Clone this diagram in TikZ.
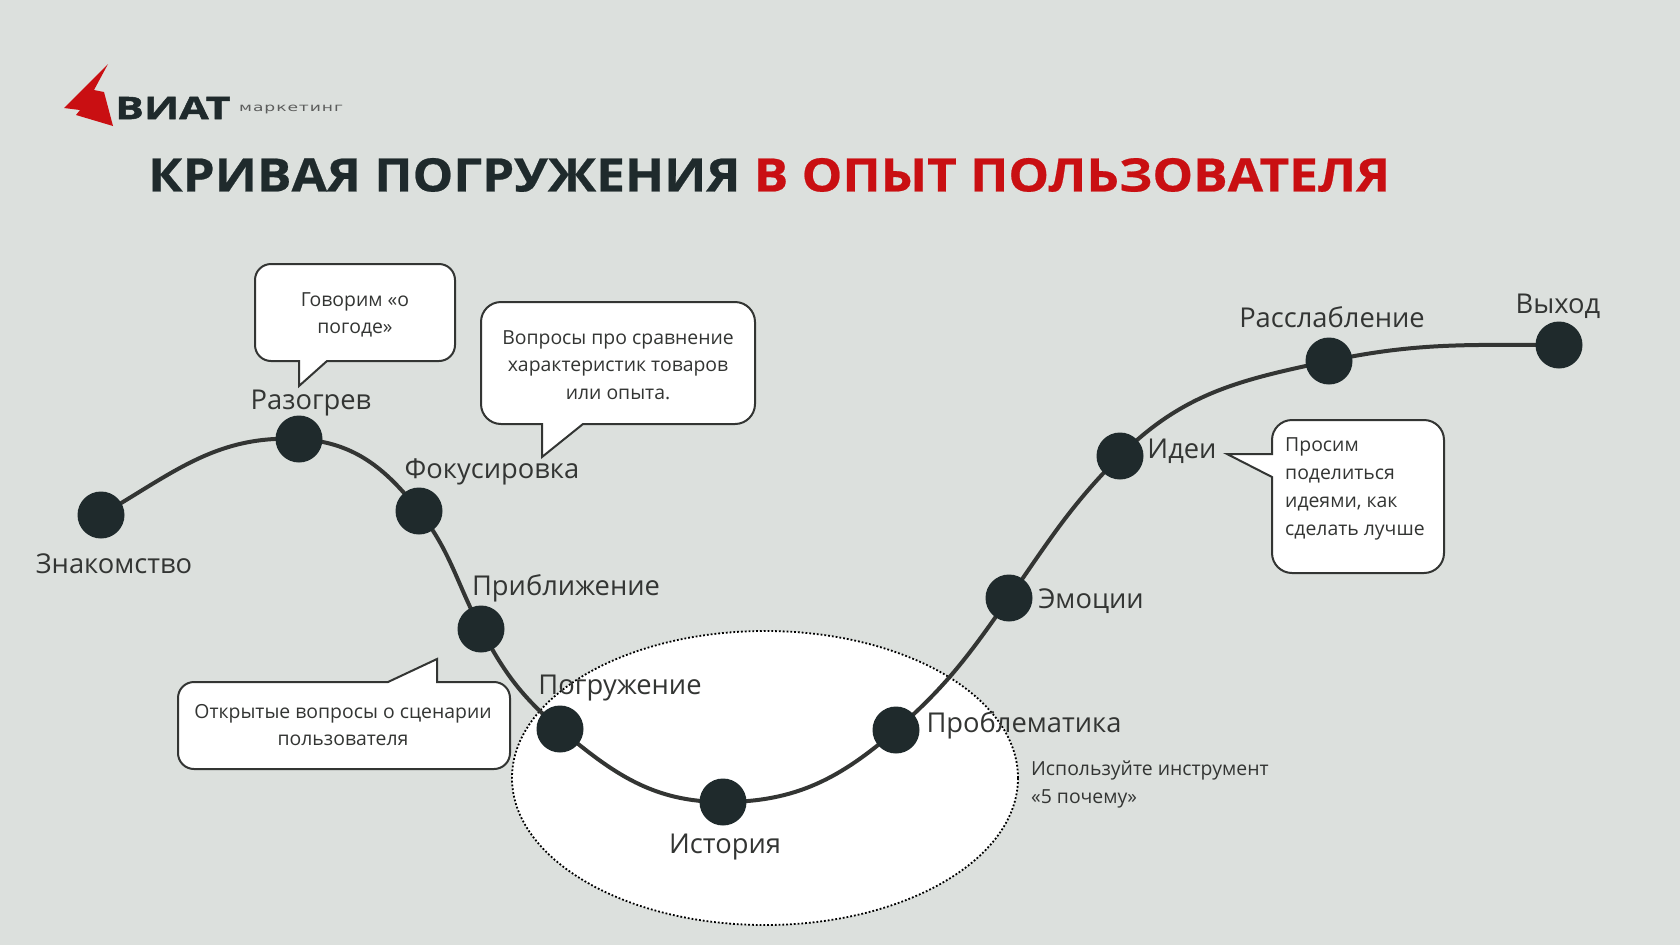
\documentclass[tikz,border=0pt]{standalone}
\usepackage{fontspec}
\usetikzlibrary{shapes.geometric}
\pgfdeclarelayer{dots}
\pgfsetlayers{main,dots}
\setmainfont{Open Sans}
\newfontfamily\titlefont[FakeStretch=1.115,FakeBold=0.5]{Open Sans}
\newfontfamily\logofont[FakeStretch=1.38,FakeBold=1.6]{Open Sans}
\newfontfamily\tagfont[FakeStretch=1.49,LetterSpace=8]{DejaVu Sans}
\definecolor{bgcol}{HTML}{DCE0DD}
\definecolor{inkcol}{HTML}{1F2A2C}
\definecolor{linecol}{HTML}{333533}
\definecolor{redcol}{HTML}{C90F12}
\tikzset{
    dot/.style = {circle, fill=inkcol, minimum size=47pt, inner sep=0pt},
    stage/.style = {text=linecol, inner sep=0pt, font=\fontsize{27.3}{30}\selectfont},
    curve/.style = {draw=linecol, line width=4pt},
    bubble/.style = {draw=linecol, fill=white, line width=2pt, rounded corners=16pt},
    note/.style = {text=linecol, inner sep=0pt, align=center, font=\fontsize{19.4}{27.5}\selectfont},
    sidenote/.style = {note, align=left, font=\fontsize{19.4}{28}\selectfont}
}
\begin{document}
\begin{tikzpicture}[x=1pt,y=-1pt]
    \useasboundingbox[fill=bgcol] (0,0) rectangle (1680,945);
    \fill[redcol] (108,64) -- (64,108) -- (80,110) -- (76,115) -- (113,126) -- (104,92) -- (94,90) -- cycle;
    \node[anchor=west,inner sep=0pt,text=inkcol] (brand) at (115,108) {\logofont\fontsize{31}{31}\selectfont\bfseries ВИАТ};
    \node[anchor=west,inner sep=0pt,text=linecol!80] (tag) at (239,109) {\tagfont\fontsize{11.5}{12}\selectfont маркетинг};
    \node[anchor=west,inner sep=0pt,text=inkcol] (title) at (148,175) {\titlefont\fontsize{46}{50}\selectfont\bfseries КРИВАЯ ПОГРУЖЕНИЯ \textcolor{redcol}{В ОПЫТ ПОЛЬЗОВАТЕЛЯ}};
    \node[draw=black,fill=white,ellipse,dotted,line width=1.8pt,minimum width=506pt,minimum height=294pt,inner sep=0pt] (zone) at (765,778) {};
    \begin{pgfonlayer}{dots}
    \node[dot] (d1) at (101,515) {};
    \node[dot] (d2) at (299,439) {};
    \node[dot] (d3) at (419,511) {};
    \node[dot] (d4) at (481,629) {};
    \node[dot] (d5) at (560,729) {};
    \node[dot] (d6) at (723,802) {};
    \node[dot] (d7) at (896,730) {};
    \node[dot] (d8) at (1009,598) {};
    \node[dot] (d9) at (1120,456) {};
    \node[dot] (d10) at (1329,361) {};
    \node[dot] (d11) at (1559,345) {};
    \end{pgfonlayer}
    \draw[curve] (d1.center) to[out=30,in=177] (d2.center);
    \draw[curve] (d2.center) to[out=-3,in=128] (d3.center);
    \draw[curve] (d3.center) to[out=-52,in=118] (d4.center);
    \draw[curve] (d4.center) to[out=-62,in=140] (d5.center);
    \draw[curve] (d5.center) to[out=-40,in=180] (d6.center);
    \draw[curve] (d6.center) to[out=0,in=221] (d7.center);
    \draw[curve] (d7.center) to[out=41,in=235] (d8.center);
    \draw[curve] (d8.center) to[out=55,in=225] (d9.center);
    \draw[curve] (d9.center) to[out=45,in=192] (d10.center);
    \draw[curve] (d10.center) to[out=12,in=180] (d11.center);
    \node[stage] (l1) at (114,564) {Знакомство};
    \node[stage] (l2) at (311,403) {Разогрев};
    \node[stage] (l3) at (492,472) {Фокусировка};
    \node[stage] (l4) at (566,588) {Приближение};
    \node[stage] (l5) at (620,688) {Погружение};
    \node[stage] (l6) at (725,847) {История};
    \node[stage] (l7) at (1024,725) {Проблематика};
    \node[stage] (l8) at (1091,601) {Эмоции};
    \node[stage] (l9) at (1182,451) {Идеи};
    \node[stage] (l10) at (1332,317) {Расслабление};
    \node[stage] (l11) at (1558,306) {Выход};
    \draw[bubble] (255,264) -- (455,264) -- (455,361) [sharp corners] -- (327,361) -- (299,386) -- (299,361) [rounded corners=16pt] -- (255,361) -- cycle;
    \node[note] (n1) at (355,315) {Говорим «о\\погоде»};
    \draw[bubble,rounded corners=20pt] (481,302) -- (755,302) -- (755,424) [sharp corners] -- (583,424) -- (542,457) -- (542,424) [rounded corners=20pt] -- (481,424) -- cycle;
    \node[note] (n2) at (618,365) {Вопросы про сравнение\\характеристик товаров\\или опыта.};
    \draw[bubble] (178,682) [sharp corners] -- (388,682) -- (437,659) -- (437,682) [rounded corners=16pt] -- (510,682) -- (510,769) -- (178,769) -- cycle;
    \node[note] (n3) at (343,725) {Открытые вопросы о сценарии\\пользователя};
    \draw[bubble,rounded corners=20pt] (1272,420) -- (1444,420) -- (1444,573) -- (1272,573) [sharp corners] -- (1272,477) -- (1227,454) -- (1272,454) [rounded corners=20pt] -- cycle;
    \node[sidenote,anchor=north west] (n4) at (1285,437) {Просим\\поделиться\\идеями, как\\сделать лучше};
    \node[sidenote,anchor=west] (n5) at (1031,784) {Используйте инструмент\\«5 почему»};
\end{tikzpicture}
\end{document}
